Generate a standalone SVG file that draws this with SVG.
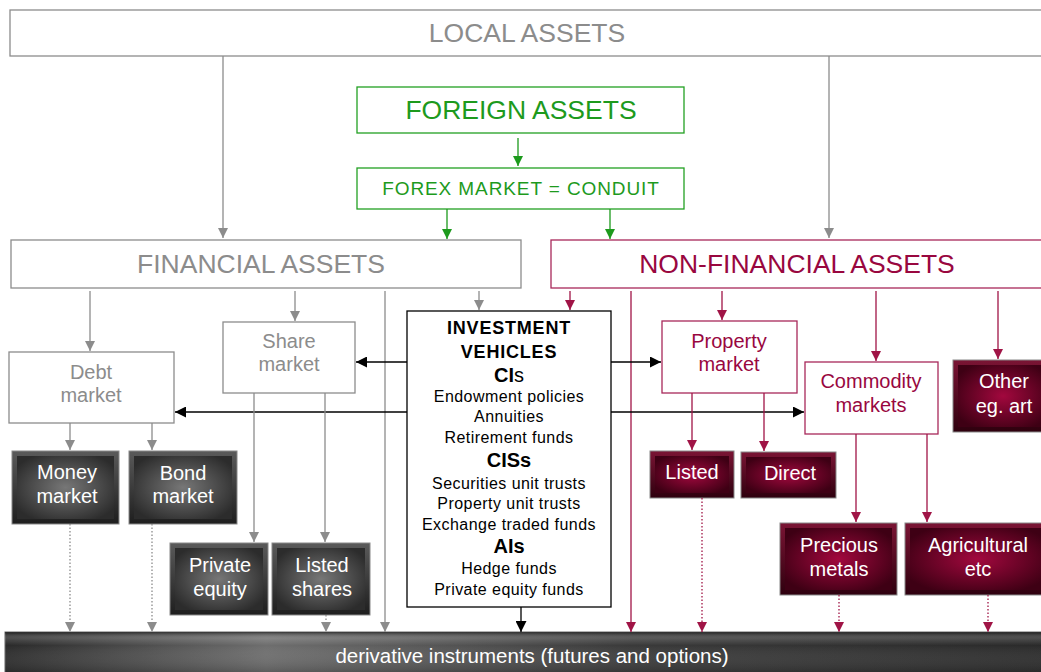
<svg xmlns="http://www.w3.org/2000/svg" width="1041" height="672" viewBox="0 0 1041 672">
<defs>
<style>
text{font-family:"Liberation Sans",Arial,sans-serif;text-anchor:middle}
.big{font-size:26.5px}
.lab{font-size:20px}
.it{font-size:16px;letter-spacing:0.45px}
.hd{font-size:18px;font-weight:bold;letter-spacing:0.8px}
.gbox{fill:#fff;stroke:#8c8c8c;stroke-width:1.3}
.gt{fill:#8c8c8c}
.grn{fill:#fff;stroke:#22a022;stroke-width:1.3}
.grt{fill:#1d9a1d}
.cbox{fill:#fff;stroke:#a8285a;stroke-width:1.3}
.ct{fill:#99073f}
.blk{fill:#fff;stroke:#000;stroke-width:1.3}
.wt{fill:#fff}
.lg{stroke:#8c8c8c;stroke-width:1.3;fill:none}
.lgr{stroke:#1d9a1d;stroke-width:1.3;fill:none}
.lc{stroke:#a01446;stroke-width:1.3;fill:none}
.lk{stroke:#000;stroke-width:1.3;fill:none}
.dot{stroke-dasharray:1.5 2}
</style>
<marker id="ag" viewBox="0 0 10 10" refX="10" refY="5" markerWidth="10" markerHeight="10" markerUnits="userSpaceOnUse" orient="auto"><path d="M0,0L10,5L0,10z" fill="#8c8c8c"/></marker>
<marker id="agr" viewBox="0 0 10 10" refX="10" refY="5" markerWidth="10" markerHeight="10" markerUnits="userSpaceOnUse" orient="auto"><path d="M0,0L10,5L0,10z" fill="#1d9a1d"/></marker>
<marker id="ac" viewBox="0 0 10 10" refX="10" refY="5" markerWidth="10" markerHeight="10" markerUnits="userSpaceOnUse" orient="auto"><path d="M0,0L10,5L0,10z" fill="#a01446"/></marker>
<marker id="ak" viewBox="0 0 10 10" refX="10" refY="5" markerWidth="11" markerHeight="11" markerUnits="userSpaceOnUse" orient="auto"><path d="M0,0L10,5L0,10z" fill="#000"/></marker>
<radialGradient id="rgG" cx="0.5" cy="0.5" r="0.6"><stop offset="0" stop-color="#777"/><stop offset="1" stop-color="#2c2c2c"/></radialGradient>
<radialGradient id="rgC" cx="0.5" cy="0.5" r="0.6"><stop offset="0" stop-color="#a2083e"/><stop offset="1" stop-color="#3e0014"/></radialGradient>
<linearGradient id="bevG" x1="0" y1="0" x2="0" y2="1"><stop offset="0" stop-color="#5a5a5a"/><stop offset="1" stop-color="#1e1e1e"/></linearGradient>
<linearGradient id="bevC" x1="0" y1="0" x2="0" y2="1"><stop offset="0" stop-color="#7a1434"/><stop offset="1" stop-color="#2e000e"/></linearGradient>
<linearGradient id="barH" x1="0" y1="0" x2="1" y2="0"><stop offset="0" stop-color="#2a2a2a"/><stop offset="0.25" stop-color="#6e6e6e"/><stop offset="0.6" stop-color="#3a3a3a"/><stop offset="1" stop-color="#2a2a2a"/></linearGradient>
<linearGradient id="barV" x1="0" y1="0" x2="0" y2="1"><stop offset="0" stop-color="#000" stop-opacity="0.5"/><stop offset="0.15" stop-color="#fff" stop-opacity="0.15"/><stop offset="0.3" stop-color="#fff" stop-opacity="0"/><stop offset="1" stop-color="#000" stop-opacity="0.3"/></linearGradient>
</defs>

<g id="local-assets"><rect class="gbox" x="10" y="10" width="1040" height="46"/><text class="gt big" x="527" y="42">LOCAL ASSETS</text></g>
<g id="foreign-assets"><rect class="grn" x="357" y="87" width="327" height="46"/><text class="grt big" x="521" y="119">FOREIGN ASSETS</text></g>
<g id="forex"><rect class="grn" x="357" y="168" width="327" height="41"/><text class="grt" x="521" y="195" font-size="19" letter-spacing="0.9">FOREX MARKET = CONDUIT</text></g>
<g id="financial-assets"><rect class="gbox" x="11" y="240" width="510" height="48"/><text class="gt big" x="261" y="273">FINANCIAL ASSETS</text></g>
<g id="non-financial-assets"><rect class="cbox" x="551" y="240" width="500" height="48"/><text class="ct big" x="797" y="273">NON-FINANCIAL ASSETS</text></g>

<g id="debt-market"><rect class="gbox" x="9" y="352" width="165" height="71"/><text class="gt lab" x="91" y="379">Debt</text><text class="gt lab" x="91" y="402">market</text></g>
<g id="share-market"><rect class="gbox" x="223" y="322" width="132" height="71"/><text class="gt lab" x="289" y="348">Share</text><text class="gt lab" x="289" y="371">market</text></g>

<g id="investment-vehicles"><rect class="blk" x="407" y="311" width="204" height="296"/>
<text class="hd" x="509" y="334">INVESTMENT</text>
<text class="hd" x="509" y="358">VEHICLES</text>
<text x="509" y="382" font-size="20"><tspan font-weight="bold">CI</tspan>s</text>
<text class="it" x="509" y="402">Endowment policies</text>
<text class="it" x="509" y="422">Annuities</text>
<text class="it" x="509" y="443">Retirement  funds</text>
<text x="509" y="467" font-size="20" font-weight="bold">CISs</text>
<text class="it" x="509" y="489">Securities unit trusts</text>
<text class="it" x="509" y="509">Property unit trusts</text>
<text class="it" x="509" y="530">Exchange traded funds</text>
<text x="509" y="553" font-size="20" font-weight="bold">AIs</text>
<text class="it" x="509" y="574">Hedge funds</text>
<text class="it" x="509" y="595">Private equity funds</text>
</g>

<g id="property-market"><rect class="cbox" x="662" y="321" width="135" height="72"/><text class="ct lab" x="729" y="348">Property</text><text class="ct lab" x="729" y="371">market</text></g>
<g id="commodity-markets"><rect class="cbox" x="805" y="362" width="133" height="72"/><text class="ct lab" x="871" y="388">Commodity</text><text class="ct lab" x="871" y="412">markets</text></g>

<g id="other-art"><rect x="953" y="360" width="95" height="72" fill="url(#bevC)" stroke="#888" stroke-width="1"/><rect x="958" y="365" width="90" height="62" fill="url(#rgC)"/><text class="wt lab" x="1004" y="388">Other</text><text class="wt lab" x="1004" y="413">eg. art</text></g>

<g id="money-market"><rect x="12" y="451" width="107" height="73" fill="url(#bevG)" stroke="#888" stroke-width="1"/><rect x="17" y="456" width="97" height="63" fill="url(#rgG)"/><text class="wt lab" x="67" y="479">Money</text><text class="wt lab" x="67" y="503">market</text></g>
<g id="bond-market"><rect x="129" y="451" width="108" height="73" fill="url(#bevG)" stroke="#888" stroke-width="1"/><rect x="134" y="456" width="98" height="63" fill="url(#rgG)"/><text class="wt lab" x="183" y="480">Bond</text><text class="wt lab" x="183" y="503">market</text></g>
<g id="private-equity"><rect x="170" y="543" width="98" height="72" fill="url(#bevG)" stroke="#888" stroke-width="1"/><rect x="175" y="548" width="88" height="62" fill="url(#rgG)"/><text class="wt lab" x="220" y="572">Private</text><text class="wt lab" x="220" y="596">equity</text></g>
<g id="listed-shares"><rect x="272" y="543" width="98" height="72" fill="url(#bevG)" stroke="#888" stroke-width="1"/><rect x="277" y="548" width="88" height="62" fill="url(#rgG)"/><text class="wt lab" x="322" y="572">Listed</text><text class="wt lab" x="322" y="596">shares</text></g>
<g id="listed"><rect x="650" y="451" width="84" height="47" fill="url(#bevC)" stroke="#888" stroke-width="1"/><rect x="655" y="456" width="74" height="37" fill="url(#rgC)"/><text class="wt lab" x="692" y="479">Listed</text></g>
<g id="direct"><rect x="741" y="452" width="95" height="46" fill="url(#bevC)" stroke="#888" stroke-width="1"/><rect x="746" y="457" width="85" height="36" fill="url(#rgC)"/><text class="wt lab" x="790" y="480">Direct</text></g>
<g id="precious-metals"><rect x="780" y="523" width="117" height="72" fill="url(#bevC)" stroke="#888" stroke-width="1"/><rect x="785" y="528" width="107" height="62" fill="url(#rgC)"/><text class="wt lab" x="839" y="552">Precious</text><text class="wt lab" x="839" y="576">metals</text></g>
<g id="agricultural"><rect x="905" y="523" width="145" height="72" fill="url(#bevC)" stroke="#888" stroke-width="1"/><rect x="910" y="528" width="135" height="62" fill="url(#rgC)"/><text class="wt lab" x="978" y="552">Agricultural</text><text class="wt lab" x="978" y="576">etc</text></g>

<g id="derivatives"><rect x="5" y="632" width="1045" height="45" fill="url(#barH)" stroke="#666" stroke-width="1"/><rect x="5" y="632" width="1045" height="45" fill="url(#barV)"/><text class="wt" x="532" y="663" font-size="20.5">derivative instruments (futures and options)</text></g>

<g id="connectors">
<path class="lg" d="M223,56V238" marker-end="url(#ag)"/>
<path class="lg" d="M829,56V238" marker-end="url(#ag)"/>
<path class="lgr" d="M518,138V166" marker-end="url(#agr)"/>
<path class="lgr" d="M447,209V239" marker-end="url(#agr)"/>
<path class="lgr" d="M610,209V239" marker-end="url(#agr)"/>
<path class="lg" d="M90,291V351" marker-end="url(#ag)"/>
<path class="lg" d="M295,291V321" marker-end="url(#ag)"/>
<path class="lg" d="M385,291V632" marker-end="url(#ag)"/>
<path class="lg" d="M479,291V310" marker-end="url(#ag)"/>
<path class="lc" d="M570,291V310" marker-end="url(#ac)"/>
<path class="lc" d="M631,291V632" marker-end="url(#ac)"/>
<path class="lc" d="M722,291V320" marker-end="url(#ac)"/>
<path class="lc" d="M876,291V361" marker-end="url(#ac)"/>
<path class="lc" d="M998,291V359" marker-end="url(#ac)"/>
<path class="lk" d="M407,362H356" marker-end="url(#ak)"/>
<path class="lk" d="M611,362H661" marker-end="url(#ak)"/>
<path class="lk" d="M407,412H175" marker-end="url(#ak)"/>
<path class="lk" d="M611,412H804" marker-end="url(#ak)"/>
<path class="lg" d="M70,423V450" marker-end="url(#ag)"/>
<path class="lg" d="M152,423V450" marker-end="url(#ag)"/>
<path class="lg" d="M254,393V542" marker-end="url(#ag)"/>
<path class="lg" d="M325,393V542" marker-end="url(#ag)"/>
<path class="lc" d="M692,393V450" marker-end="url(#ac)"/>
<path class="lc" d="M764,393V451" marker-end="url(#ac)"/>
<path class="lc" d="M856,434V522" marker-end="url(#ac)"/>
<path class="lc" d="M927,434V522" marker-end="url(#ac)"/>
<path class="lk" d="M521,607V632" marker-end="url(#ak)"/>
<path class="lg dot" d="M70,524V632" marker-end="url(#ag)"/>
<path class="lg dot" d="M152,524V632" marker-end="url(#ag)"/>
<path class="lg dot" d="M326,615V632" marker-end="url(#ag)"/>
<path class="lc dot" d="M702,498V632" marker-end="url(#ac)"/>
<path class="lc dot" d="M839,595V632" marker-end="url(#ac)"/>
<path class="lc dot" d="M988,595V632" marker-end="url(#ac)"/>
</g>
</svg>
